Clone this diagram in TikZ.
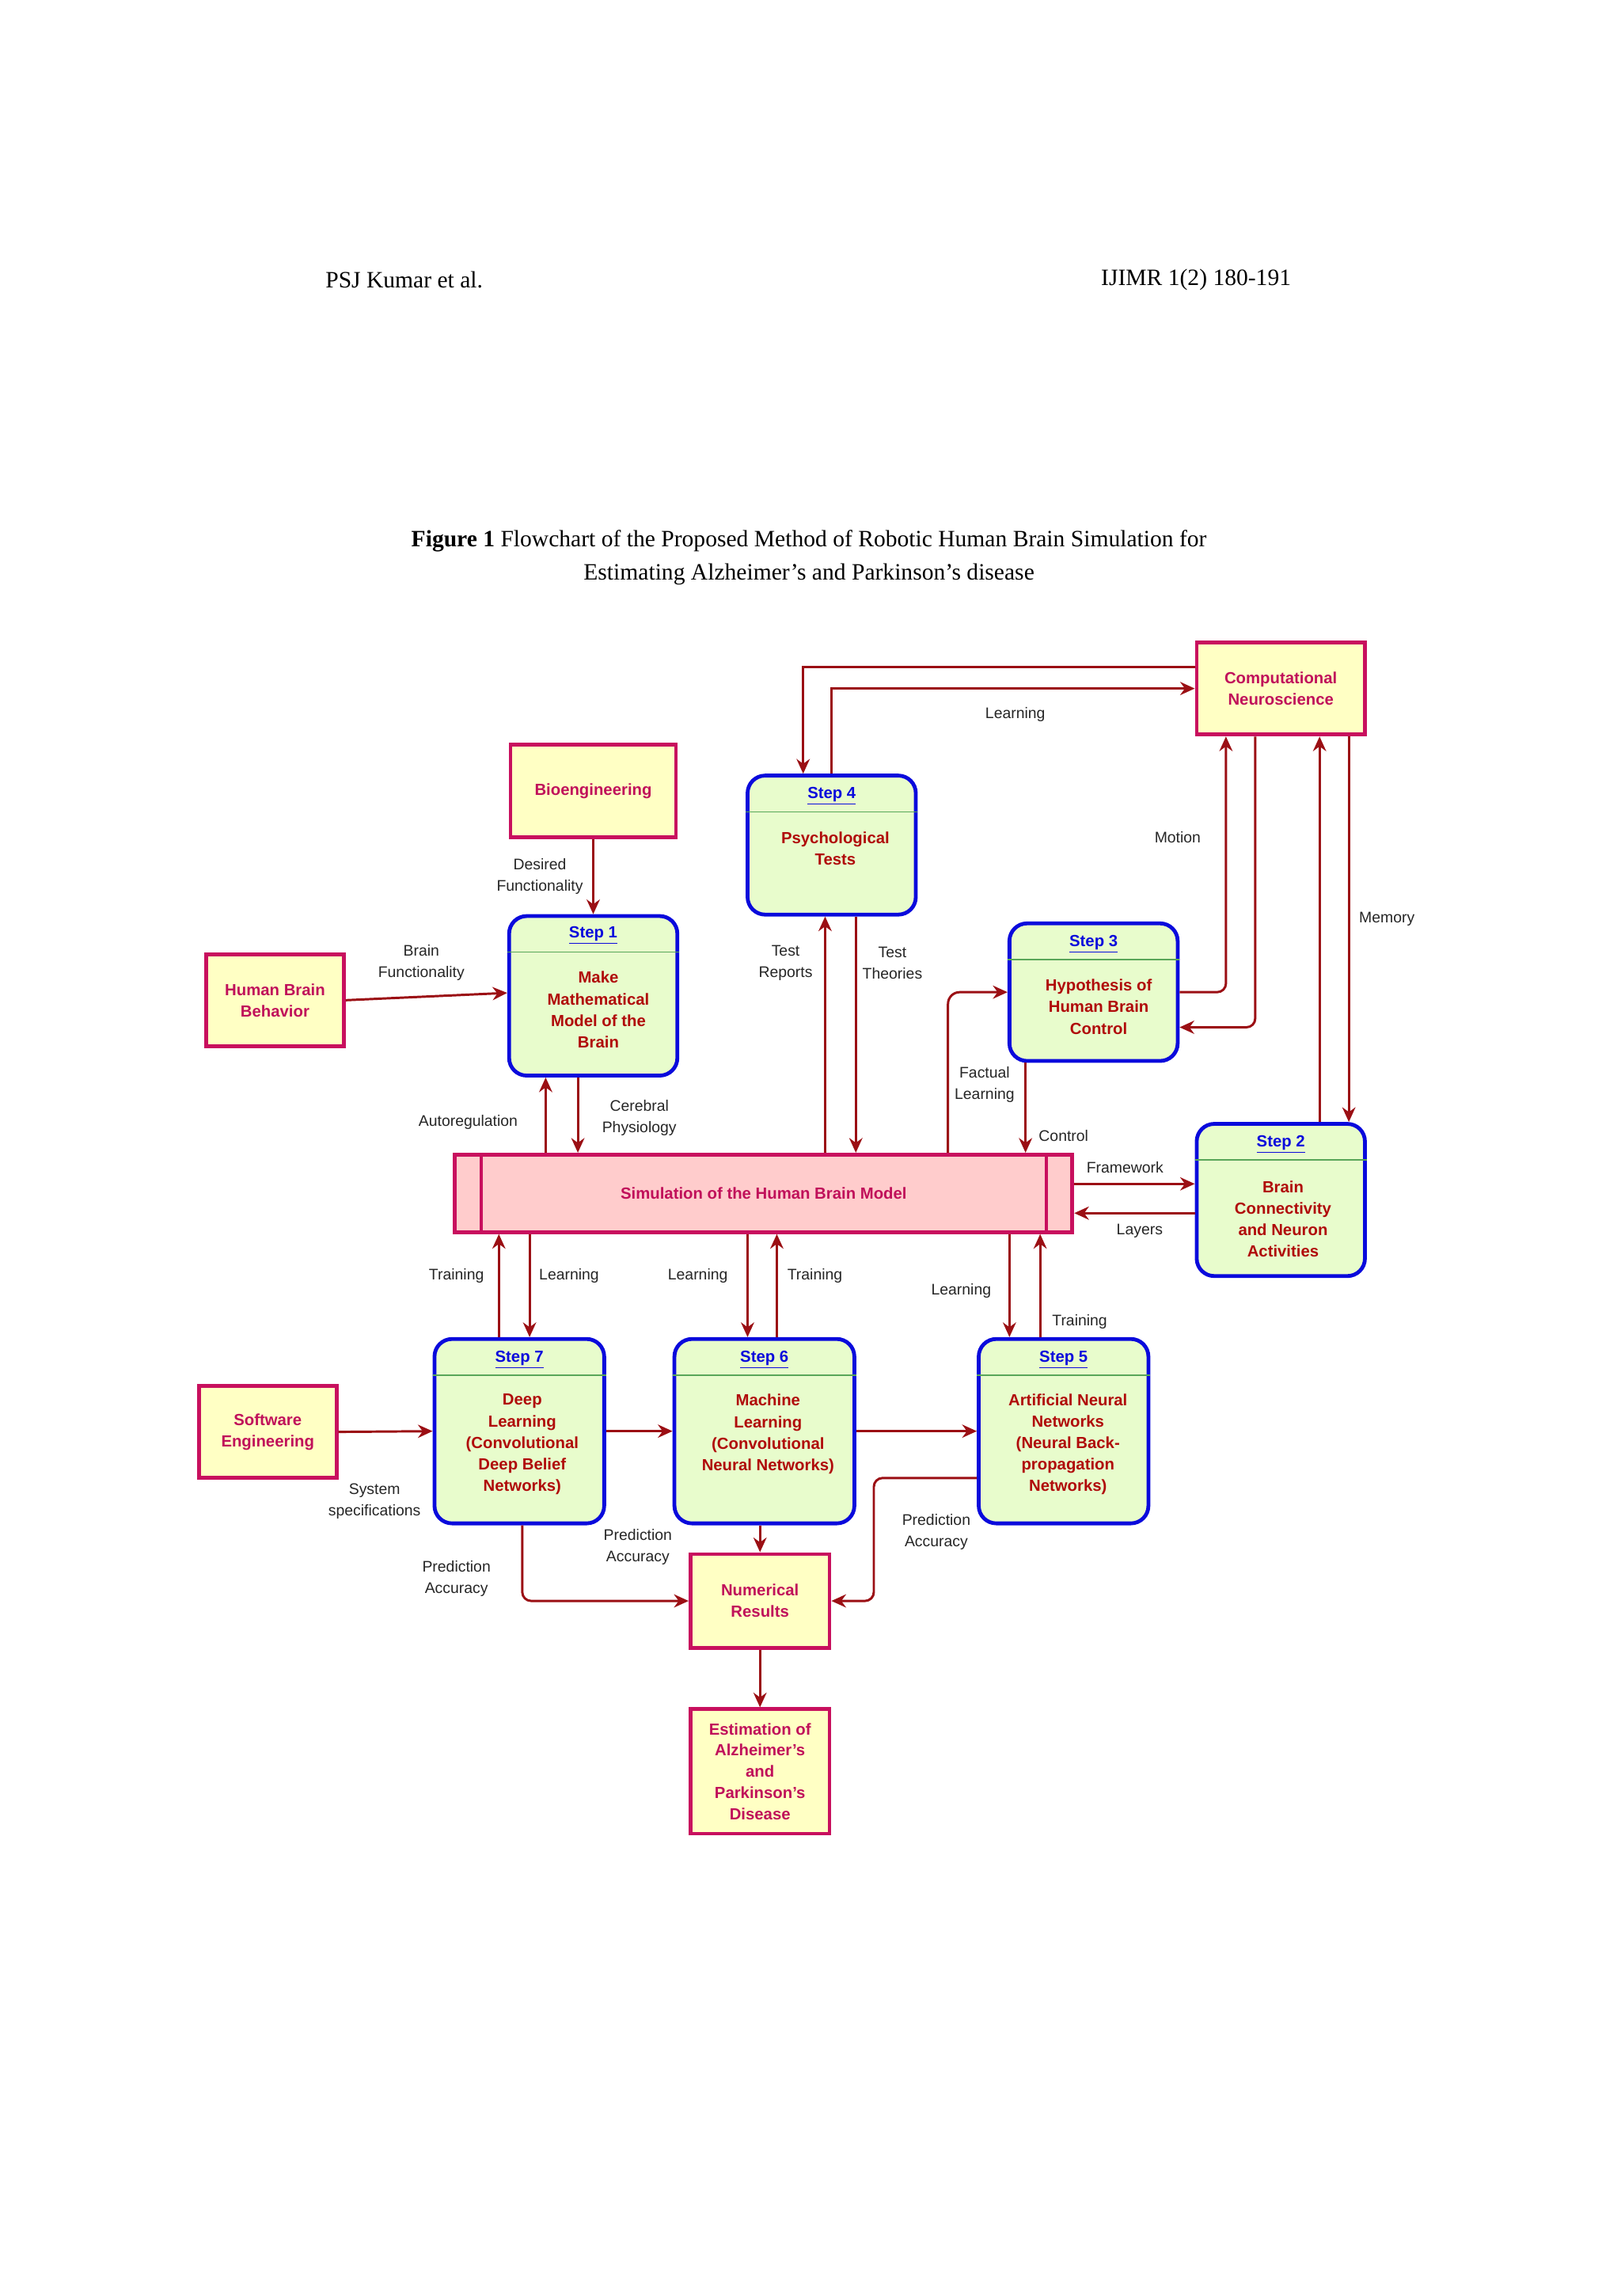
\documentclass[tikz,border=0pt]{standalone}
\usepackage{fontspec}
\setmainfont{Liberation Sans}
\newfontfamily\serifff{Liberation Serif}
\usetikzlibrary{arrows.meta}
\definecolor{arrc}{HTML}{9B0F14}
\definecolor{boxb}{HTML}{C8105E}
\definecolor{boxf}{HTML}{FFFFC4}
\definecolor{boxt}{HTML}{C0105A}
\definecolor{stepb}{HTML}{0A0ADC}
\definecolor{stepf}{HTML}{E8FCCC}
\definecolor{stept}{HTML}{B00A0A}
\definecolor{simf}{HTML}{FFCCCC}
\begin{document}
\begin{tikzpicture}[x=1pt,y=-1pt,
  arr/.style={draw=arrc,line width=1.6pt,-{Stealth[length=10pt,width=9pt]}},
  box/.style={draw=boxb,fill=boxf,line width=2.6pt,inner sep=0pt,align=center,text=boxt,font=\fontsize{11}{14.5}\selectfont\bfseries},
  stepbox/.style={draw=stepb,fill=stepf,line width=2.6pt,rounded corners=12pt,inner sep=0pt},
  stitle/.style={text=stepb,font=\fontsize{11}{14}\selectfont\bfseries},
  sbody/.style={text=stept,align=center,font=\fontsize{11}{14.7}\selectfont\bfseries},
  lbl/.style={align=center,font=\fontsize{10.5}{14.5}\selectfont,text=black!85,inner sep=1pt},
  div/.style={draw=gray!70!green,line width=0.8pt}]
\useasboundingbox (0,0) rectangle (1108,1569);
% header
\node[font=\serifff\fontsize{16}{19}\selectfont,anchor=west] (hl) at (219,191) {PSJ Kumar et al.};
\node[font=\serifff\fontsize{16}{19}\selectfont,anchor=east] (hr) at (886,191) {IJIMR 1(2) 180-191};
\node[font=\serifff\fontsize{16}{22.5}\selectfont,align=center] (cap) at (553,381) {\textbf{Figure 1} Flowchart of the Proposed Method of Robotic Human Brain Simulation for\\Estimating Alzheimer’s and Parkinson’s disease};
% plain boxes
\node[box,minimum width=115pt,minimum height=63pt] (cn) at (875.5,470.5) {Computational\\Neuroscience};
\node[box,minimum width=113pt,minimum height=63pt] (bio) at (405.5,540.5) {Bioengineering};
\node[box,minimum width=94pt,minimum height=63pt] (hbb) at (188,683.5) {Human Brain\\Behavior};
\node[box,minimum width=94pt,minimum height=63pt] (se) at (183,978.5) {Software\\Engineering};
\node[box,minimum width=95pt,minimum height=64pt] (nr) at (519.5,1094) {Numerical\\Results};
\node[box,minimum width=95pt,minimum height=85pt] (est) at (519.5,1210.5) {Estimation of\\Alzheimer's\\and\\Parkinson's\\Disease};
% simulation
\node[draw=boxb,fill=simf,line width=2.6pt,minimum width=422pt,minimum height=53pt,inner sep=0pt,text=boxt,font=\fontsize{11}{14}\selectfont\bfseries] (sim) at (522,815.5) {Simulation of the Human Brain Model};
\draw[draw=boxb,line width=2.2pt] (sim.north west) ++(19,0) -- ++(0,53);
\draw[draw=boxb,line width=2.2pt] (sim.north east) ++(-19,0) -- ++(0,53);
% steps
\node[stepbox,minimum width=115pt,minimum height=95pt] (step4) at (568.5,577.5) {};
\node[stepbox,minimum width=115pt,minimum height=109pt] (step1) at (405.5,680.5) {};
\node[stepbox,minimum width=115pt,minimum height=94pt] (step3) at (747.5,678) {};
\node[stepbox,minimum width=115pt,minimum height=104pt] (step2) at (875.5,820) {};
\node[stepbox,minimum width=116pt,minimum height=126pt] (step7) at (355,978) {};
\node[stepbox,minimum width=123pt,minimum height=126pt] (step6) at (522.5,978) {};
\node[stepbox,minimum width=116pt,minimum height=126pt] (step5) at (727,978) {};
\foreach \s in {step1,step2,step3,step4,step5,step6,step7}{
  \draw[div] ([yshift=-26pt]\s.north west) -- ([yshift=-26pt]\s.north east);
}
\node[stitle] (t4) at (568.5,544) {\underline{Step 4}};
\node[sbody] (b4) at (571,580) {Psychological\\Tests};
\node[stitle] (t1) at (405.5,639) {\underline{Step 1}};
\node[sbody] (b1) at (409,690) {Make\\Mathematical\\Model of the\\Brain};
\node[stitle] (t3) at (747.5,645) {\underline{Step 3}};
\node[sbody] (b3) at (751,688) {Hypothesis of\\Human Brain\\Control};
\node[stitle] (t2) at (875.5,782) {\underline{Step 2}};
\node[sbody] (b2) at (877,833) {Brain\\Connectivity\\and Neuron\\Activities};
\node[stitle] (t7) at (355,929) {\underline{Step 7}};
\node[sbody] (b7) at (357,987) {Deep\\Learning\\(Convolutional\\Deep Belief\\Networks)};
\node[stitle] (t6) at (522.5,929) {\underline{Step 6}};
\node[sbody] (b6) at (525,980) {Machine\\Learning\\(Convolutional\\Neural Networks)};
\node[stitle] (t5) at (727,929) {\underline{Step 5}};
\node[sbody] (b5) at (730,987) {Artificial Neural\\Networks\\(Neural Back-\\propagation\\Networks)};
% connectors
\draw[arr] ([yshift=14.5pt]cn.west) -| ([xshift=-19.5pt]step4.north);
\draw[arr] (step4.north) |- (cn.west);
\draw[arr] (bio.south) -- (step1.north);
\draw[arr] (hbb.east) -- ([yshift=2pt]step1.west);
\draw[arr] ([xshift=-32.5pt]step1.south |- sim.north) -- ([xshift=-32.5pt]step1.south);
\draw[arr] ([xshift=-10.5pt]step1.south) -- ([xshift=-10.5pt]step1.south |- sim.north);
\draw[arr] ([xshift=-4.5pt]step4.south |- sim.north) -- ([xshift=-4.5pt]step4.south);
\draw[arr] ([xshift=16.5pt]step4.south) -- ([xshift=16.5pt]step4.south |- sim.north);
\draw[arr,rounded corners=8pt] ([xshift=-99.5pt]step3.south |- sim.north) |- (step3.west);
\draw[arr] ([xshift=-46.5pt]step3.south) -- ([xshift=-46.5pt]step3.south |- sim.north);
\draw[arr,rounded corners=6pt] (step3.east) -| ([xshift=-37.5pt]cn.south);
\draw[arr,rounded corners=6pt] ([xshift=-17.5pt]cn.south) |- ([yshift=-24pt]step3.east);
\draw[arr] ([xshift=26.5pt]step2.north) -- ([xshift=26.5pt]step2.north |- cn.south);
\draw[arr] ([xshift=46.5pt]step2.north |- cn.south) -- ([xshift=46.5pt]step2.north);
\draw[arr] ([yshift=6.5pt]sim.east) -- ([yshift=6.5pt]sim.east -| step2.west);
\draw[arr] ([yshift=-13.5pt]sim.east -| step2.west) -- ([yshift=-13.5pt]sim.east);
\draw[arr] ([xshift=-14pt]step7.north) -- ([xshift=-14pt]step7.north |- sim.south);
\draw[arr] ([xshift=7pt]step7.north |- sim.south) -- ([xshift=7pt]step7.north);
\draw[arr] ([xshift=-11.5pt]step6.north |- sim.south) -- ([xshift=-11.5pt]step6.north);
\draw[arr] ([xshift=8.5pt]step6.north) -- ([xshift=8.5pt]step6.north |- sim.south);
\draw[arr] ([xshift=-37pt]step5.north |- sim.south) -- ([xshift=-37pt]step5.north);
\draw[arr] ([xshift=-16pt]step5.north) -- ([xshift=-16pt]step5.north |- sim.south);
\draw[arr] (se.east) -- (step7.west);
\draw[arr] (step7.east) -- (step6.west);
\draw[arr] (step6.east) -- (step5.west);
\draw[arr,rounded corners=6pt] ([xshift=2pt]step7.south) |- (nr.west);
\draw[arr] (nr.north |- step6.south) -- (nr.north);
\draw[arr,rounded corners=6pt] ([yshift=-32pt]step5.west) -| ([xshift=29pt]nr.east) -- (nr.east);
\draw[arr] (nr.south) -- (est.north);
% labels
\node[lbl] (l1) at (694,488) {Learning};
\node[lbl] (l2) at (369,599) {Desired\\Functionality};
\node[lbl] (l3) at (288,658) {Brain\\Functionality};
\node[lbl] (l4) at (320,767) {Autoregulation};
\node[lbl] (l5) at (437,764) {Cerebral\\Physiology};
\node[lbl] (l6) at (537,658) {Test\\Reports};
\node[lbl] (l7) at (610,658) {Test\\Theories};
\node[lbl] (l8) at (673,741) {Factual\\Learning};
\node[lbl] (l9) at (727,776) {Control};
\node[lbl] (l10) at (805,572) {Motion};
\node[lbl] (l11) at (948,628) {Memory};
\node[lbl] (l12) at (769,798) {Framework};
\node[lbl] (l13) at (779,841) {Layers};
\node[lbl] (l14) at (312,872) {Training};
\node[lbl] (l15) at (389,872) {Learning};
\node[lbl] (l16) at (477,872) {Learning};
\node[lbl] (l17) at (557,872) {Training};
\node[lbl] (l18) at (657,882) {Learning};
\node[lbl] (l19) at (738,903) {Training};
\node[lbl] (l20) at (256,1026) {System\\specifications};
\node[lbl] (l21) at (312,1079) {Prediction\\Accuracy};
\node[lbl] (l22) at (436,1057) {Prediction\\Accuracy};
\node[lbl] (l23) at (640,1047) {Prediction\\Accuracy};
\end{tikzpicture}
\end{document}
